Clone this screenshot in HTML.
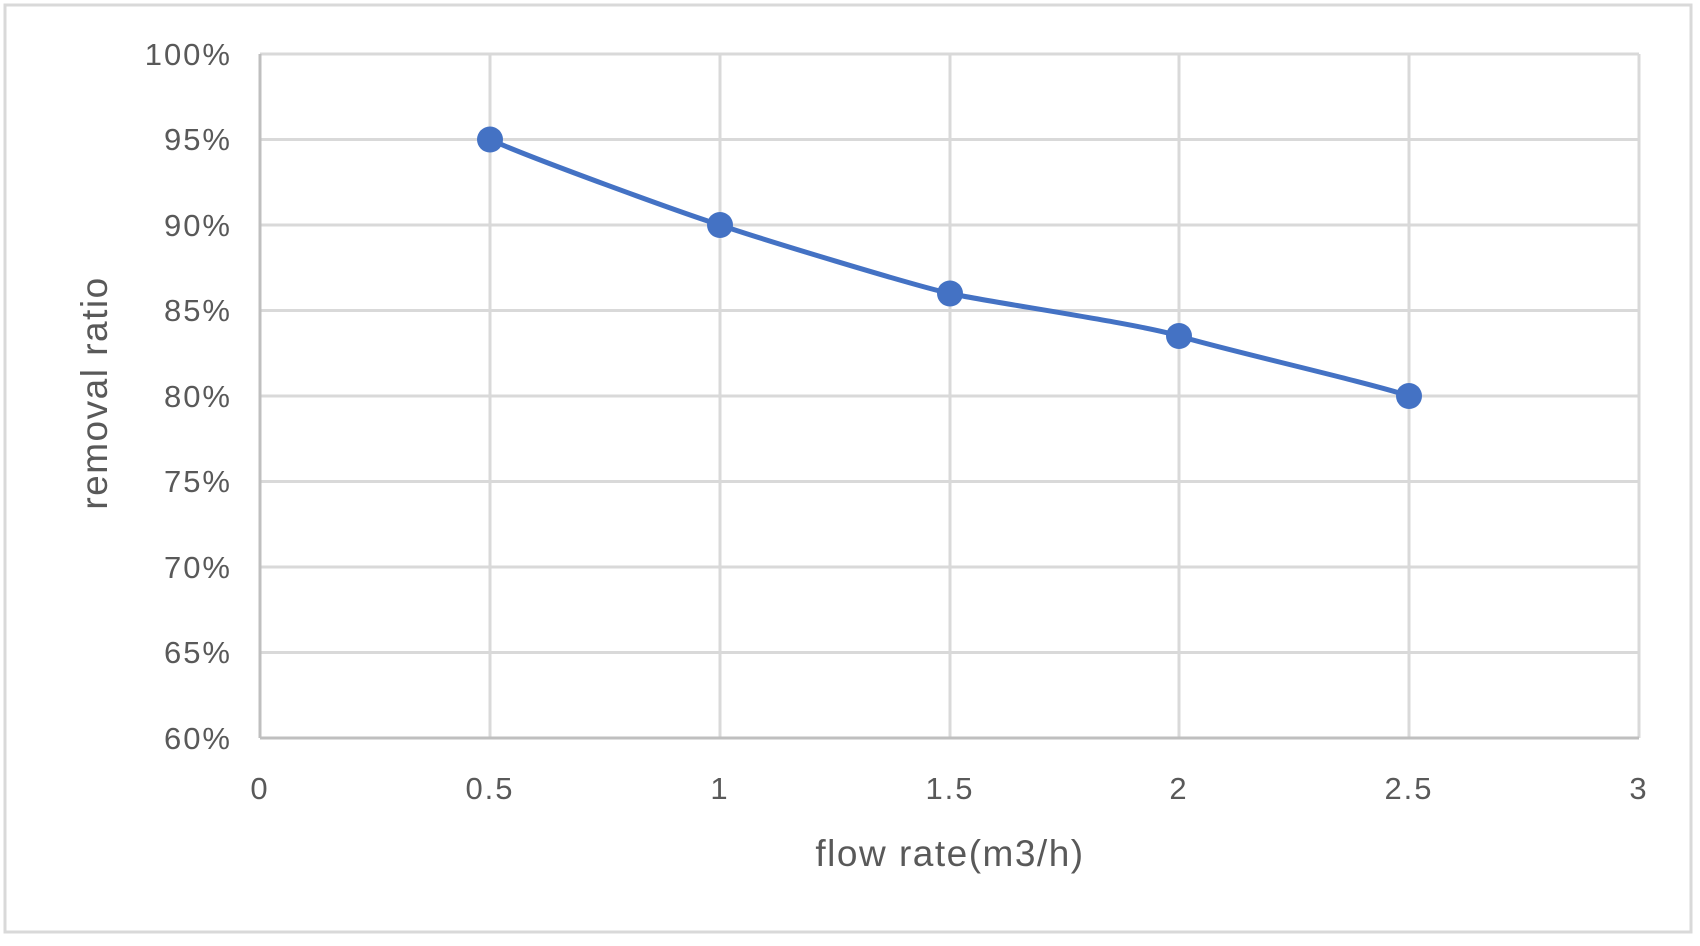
<!DOCTYPE html>
<html><head><style>
html,body{margin:0;padding:0;background:#fff;}
svg text{font-family:"Liberation Sans",sans-serif;fill:#595959;}
</style></head><body>
<svg width="1700" height="941" viewBox="0 0 1700 941" xmlns="http://www.w3.org/2000/svg">
<rect x="0" y="0" width="1700" height="941" fill="#fff"/>
<rect x="5" y="5" width="1686" height="927" fill="#fff" stroke="#d9d9d9" stroke-width="3"/>
<g stroke="#d9d9d9" stroke-width="3">
<line x1="260" y1="54" x2="1639" y2="54"/>
<line x1="260" y1="139.5" x2="1639" y2="139.5"/>
<line x1="260" y1="225" x2="1639" y2="225"/>
<line x1="260" y1="310.5" x2="1639" y2="310.5"/>
<line x1="260" y1="396" x2="1639" y2="396"/>
<line x1="260" y1="481.5" x2="1639" y2="481.5"/>
<line x1="260" y1="567" x2="1639" y2="567"/>
<line x1="260" y1="652.5" x2="1639" y2="652.5"/>
<line x1="490" y1="54" x2="490" y2="738"/>
<line x1="720" y1="54" x2="720" y2="738"/>
<line x1="950" y1="54" x2="950" y2="738"/>
<line x1="1179" y1="54" x2="1179" y2="738"/>
<line x1="1409" y1="54" x2="1409" y2="738"/>
<line x1="1639" y1="54" x2="1639" y2="738"/>
</g>
<g stroke="#bfbfbf" stroke-width="3">
<line x1="260" y1="54" x2="260" y2="738"/>
<line x1="260" y1="738" x2="1639" y2="738"/>
</g>
<g font-size="31" text-anchor="end" letter-spacing="2">
<text x="232" y="65">100%</text>
<text x="232" y="150">95%</text>
<text x="232" y="236">90%</text>
<text x="232" y="321">85%</text>
<text x="232" y="407">80%</text>
<text x="232" y="492">75%</text>
<text x="232" y="578">70%</text>
<text x="232" y="663">65%</text>
<text x="232" y="749">60%</text>
</g>
<g font-size="31" text-anchor="middle" letter-spacing="2">
<text x="260" y="799">0</text>
<text x="490" y="799">0.5</text>
<text x="720" y="799">1</text>
<text x="950" y="799">1.5</text>
<text x="1179" y="799">2</text>
<text x="1409" y="799">2.5</text>
<text x="1639" y="799">3</text>
</g>
<text x="950" y="866" font-size="37" letter-spacing="1.5" text-anchor="middle">flow rate(m3/h)</text>
<text transform="translate(107,393) rotate(-90)" font-size="37" letter-spacing="1.5" text-anchor="middle">removal ratio</text>
<path d="M490,139.5 C528,157 682,213 720,225 C758,238 912,285 950,293.5 C988,302 1141,324 1179,336 C1217,348 1371,383 1409,396" fill="none" stroke="#4472c4" stroke-width="5"/>
<g fill="#4472c4">
<circle cx="490" cy="139.5" r="13"/>
<circle cx="720" cy="225" r="13"/>
<circle cx="950" cy="293.5" r="13"/>
<circle cx="1179" cy="336" r="13"/>
<circle cx="1409" cy="396" r="13"/>
</g>
</svg>
</body></html>
